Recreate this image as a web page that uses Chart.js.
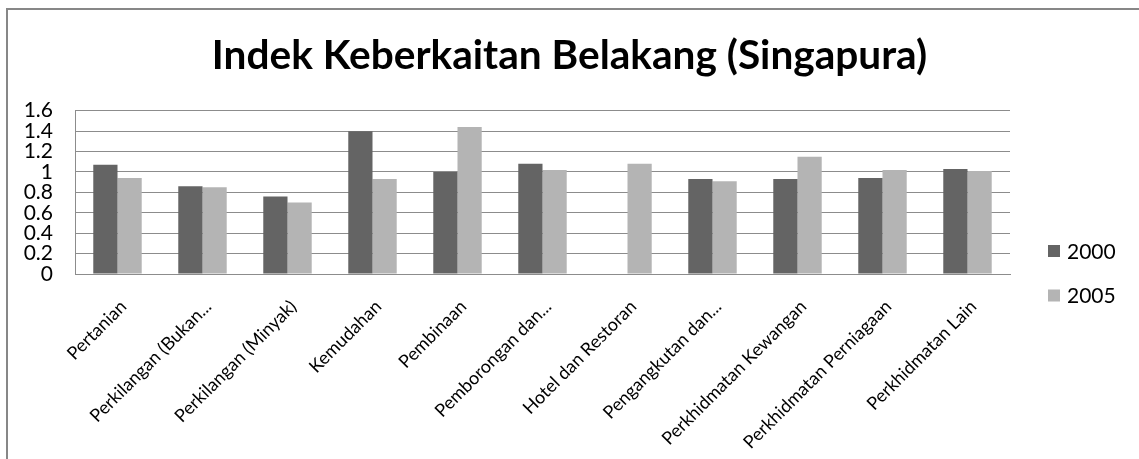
<!DOCTYPE html>
<html>
<head>
<meta charset="utf-8">
<script src="https://cdn.jsdelivr.net/npm/chart.js@4/dist/chart.umd.min.js"></script>
<style>
    body { margin: 0; background: #fff; overflow: hidden; }
    #wrap { position: relative; width: 1139px; height: 459px; }
    #frame { position: absolute; left: 6px; top: 8px; width: 2000px; height: 2000px;
             border: 2px solid #878787; pointer-events: none; }
</style>
</head>
<body>
<div id="wrap">
    <canvas id="chart" width="1139" height="459"></canvas>
    <div id="frame"></div>
</div>
<script>
const categories = [
    'Pertanian',
    'Perkilangan (Bukan...',
    'Perkilangan (Minyak)',
    'Kemudahan',
    'Pembinaan',
    'Pemborongan dan...',
    'Hotel dan Restoran',
    'Pengangkutan dan...',
    'Perkhidmatan Kewangan',
    'Perkhidmatan Perniagaan',
    'Perkhidmatan Lain'
];
const seriesNames = ['2000', '2005'];
const values2000 = [1.07, 0.86, 0.76, 1.40, 1.00, 1.08, 0, 0.93, 0.93, 0.94, 1.03];
const values2005 = [0.94, 0.85, 0.70, 0.93, 1.44, 1.02, 1.08, 0.91, 1.15, 1.02, 1.01];
const yTicks = [0, 0.2, 0.4, 0.6, 0.8, 1, 1.2, 1.4, 1.6];

const DARK = '#646464';
const LIGHT = '#b4b4b4';
const GRID = '#8c8c8c';
const FONT = 'Lato';

// legend stacked on the right, as in the original
const sideLegend = {
    id: 'sideLegend',
    afterDraw(chart) {
        const c = chart.ctx;
        const x = 1048;
        const ys = [251, 295.5];
        c.save();
        c.font = '21px ' + FONT;
        c.textBaseline = 'middle';
        c.textAlign = 'left';
        chart.data.datasets.forEach(function(ds, i) {
            c.fillStyle = ds.backgroundColor;
            c.fillRect(x, ys[i] - 6, 12, 12);
            c.fillStyle = '#000';
            c.fillText(ds.label, x + 19, ys[i] + 1);
        });
        c.restore();
    }
};

const ctx = document.getElementById('chart').getContext('2d');
new Chart(ctx, {
    type: 'bar',
    data: {
        labels: categories,
        datasets: [
            { label: seriesNames[0], data: values2000, backgroundColor: DARK },
            { label: seriesNames[1], data: values2005, backgroundColor: LIGHT }
        ]
    },
    options: {
        responsive: false,
        animation: false,
        categoryPercentage: 0.57,
        barPercentage: 1.0,
        layout: { padding: 0 },
        scales: {
            x: {
                grid: { display: false, drawTicks: false },
                border: { display: true, color: GRID, width: 1 },
                ticks: {
                    color: '#000',
                    font: { family: FONT, size: 18 },
                    maxRotation: 45,
                    minRotation: 45,
                    autoSkip: false,
                    padding: 22,
                    labelOffset: 6
                },
                afterFit(scale) { scale.height = 185; }
            },
            y: {
                min: 0,
                max: 1.6,
                afterBuildTicks(scale) {
                    scale.ticks = yTicks.map(function(v) { return { value: v }; });
                },
                grid: { color: GRID, lineWidth: 1, drawTicks: false },
                border: { display: true, color: GRID, width: 1 },
                ticks: {
                    color: '#000',
                    font: { family: FONT, size: 21 },
                    autoSkip: false,
                    padding: 22,
                    callback: function(value) { return String(value); }
                },
                afterFit(scale) { scale.width = 75; }
            },
            // empty axis that keeps room on the right for the legend
            legendSpace: {
                type: 'linear',
                position: 'right',
                grid: { display: false },
                border: { display: false },
                ticks: { display: false },
                afterFit(scale) { scale.width = 129; }
            }
        },
        plugins: {
            legend: { display: false },
            tooltip: { enabled: false },
            title: {
                display: true,
                text: 'Indek Keberkaitan Belakang (Singapura)',
                color: '#000',
                font: { family: FONT, size: 40.6, weight: 'bold' },
                padding: { top: 32, bottom: 30 }
            }
        }
    },
    plugins: [sideLegend]
});
</script>
</body>
</html>
